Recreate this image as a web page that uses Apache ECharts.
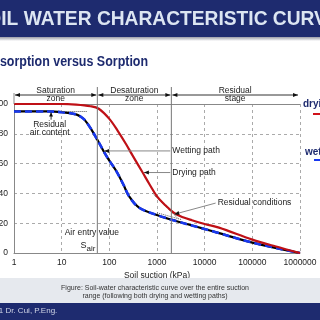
<!DOCTYPE html>
<html>
<head>
<meta charset="utf-8">
<title>Soil water characteristic curve</title>
<script src="https://cdn.jsdelivr.net/npm/echarts@6/dist/echarts.min.js"></script>
<style>
  html, body { margin: 0; padding: 0; background: #fff; }
  #main { width: 320px; height: 320px; }
</style>
</head>
<body>
<div id="main"></div>
<script>
// ---- data ----
var xTicks = [1, 10, 100, 1000, 10000, 100000, 1000000];
var yTicks = [0, 20, 40, 60, 80, 100];

// drying path (desorption), suction kPa -> water content %
var dryingSuction = [1, 10, 20, 40, 60, 100, 150, 225, 300, 500, 700, 1000, 1500, 2250, 3500, 5400, 10000, 20000, 100000, 300000, 1000000];
var dryingWater   = [100, 100, 99.6, 98.5, 96.8, 90, 82, 73, 66, 54, 46, 38, 32, 27, 24, 22, 19.5, 17, 9, 4.5, 0];

// wetting path (sorption)
var wettingSuction = [1, 5, 10, 20, 25, 30, 40, 56, 80, 100, 140, 200, 260, 420, 1100, 2500, 9000, 17000, 100000, 1000000];
var wettingWater   = [95, 95, 94.5, 93, 91.5, 89.5, 84, 76, 67, 62, 55, 45.5, 38, 30.5, 25, 21.5, 16.5, 14, 7, 0];

var airEntry = 56;          // kPa
var residualStart = 2000;   // kPa
var zoneBounds = [1, airEntry, residualStart, 1000000];
var zoneNames = [['Saturation', 'zone'], ['Desaturation', 'zone'], ['Residual', 'stage']];

var FONT = '"Liberation Sans", Arial, sans-serif';
var NAVY = '#1e2b6f';

function pairs(xs, ys) {
    return xs.map(function (x, i) { return [x, ys[i]]; });
}

var chart = echarts.init(document.getElementById('main'));

var option = {
    animation: false,
    textStyle: { fontFamily: FONT },
    grid: { left: 14, right: 20, top: 104, bottom: 67, containLabel: false, outerBoundsMode: 'none' },
    xAxis: {
        type: 'log',
        logBase: 10,
        min: xTicks[0],
        max: xTicks[xTicks.length - 1],
        splitNumber: 6,
        name: 'Soil suction (kPa)',
        nameLocation: 'middle',
        nameGap: 18,
        nameTextStyle: { fontSize: 8.5, color: '#222', fontFamily: FONT },
        axisLine: { lineStyle: { color: '#888' } },
        axisTick: { show: false },
        axisLabel: {
            fontSize: 8.5, color: '#222', margin: 5, fontFamily: FONT,
            formatter: function (v) {
                var t = xTicks.filter(function (k) { return Math.abs(k - v) / k < 1e-6; });
                return t.length ? String(t[0]) : '';
            }
        },
        splitLine: { show: true, lineStyle: { color: '#aaa', type: [3, 3] } }
    },
    yAxis: {
        type: 'value',
        min: yTicks[0],
        max: yTicks[yTicks.length - 1],
        interval: 20,
        axisLine: { show: true, lineStyle: { color: '#888' } },
        axisTick: { show: false },
        axisLabel: { fontSize: 8.5, color: '#222', margin: 6, fontFamily: FONT },
        splitLine: { lineStyle: { color: '#aaa', type: [3, 3] } }
    },
    series: [
        {
            name: 'drying',
            type: 'line',
            data: pairs(dryingSuction, dryingWater),
            showSymbol: false,
            smooth: 0.35,
            z: 5,
            lineStyle: { color: '#bf1016', width: 2.2 },
            markLine: {
                silent: true,
                symbol: 'none',
                label: { show: false },
                data: [
                    [{ coord: [1, 100], lineStyle: { color: '#888', type: 'solid', width: 1 } },
                     { coord: [1000000, 100] }],
                    [{ coord: [10, 95], lineStyle: { color: '#555', type: 'dotted', width: 1 } },
                     { coord: [35, 95] }],
                    [{ coord: [800, 40], lineStyle: { color: '#555', type: 'dotted', width: 1 } },
                     { coord: [2800, 23] }],
                    [{ coord: [1000, 27], lineStyle: { color: '#555', type: 'dotted', width: 1 } },
                     { coord: [3200, 22.5] }]
                ]
            }
        },
        {
            name: 'wetting-under',
            type: 'line',
            data: pairs(wettingSuction, wettingWater),
            showSymbol: false,
            smooth: 0.35,
            z: 3,
            lineStyle: { color: '#000', width: 2.2 }
        },
        {
            name: 'wetting',
            type: 'line',
            data: pairs(wettingSuction, wettingWater),
            showSymbol: false,
            smooth: 0.35,
            z: 4,
            lineStyle: { color: '#1838f0', width: 2.6, type: [7, 4] }
        }
    ]
};
chart.setOption(option);

// ---- annotations placed through the chart's own scales ----
function px(p) { return chart.convertToPixel({ seriesIndex: 0 }, p); }

function head(tip, from, len, hw) {
    var dx = tip[0] - from[0], dy = tip[1] - from[1];
    var d = Math.sqrt(dx * dx + dy * dy) || 1;
    var ux = dx / d, uy = dy / d;
    var bx = tip[0] - ux * len, by = tip[1] - uy * len;
    return {
        type: 'polygon',
        shape: { points: [[tip[0], tip[1]], [bx - uy * hw, by + ux * hw], [bx + uy * hw, by - ux * hw]] },
        style: { fill: '#111' },
        z: 20
    };
}
function seg(a, b, color, w) {
    return { type: 'line', shape: { x1: a[0], y1: a[1], x2: b[0], y2: b[1] },
             style: { stroke: color || '#777', lineWidth: w || 1 }, z: 15 };
}
function txt(x, y, s, opt) {
    opt = opt || {};
    return {
        type: 'text', x: x, y: y, z: 30,
        scaleX: opt.scaleX || 1, originX: 0,
        style: {
            text: s, fill: opt.color || '#222',
            font: (opt.bold ? 'bold ' : '') + (opt.size || 8.5) + 'px ' + FONT,
            align: opt.align || 'left', verticalAlign: 'middle'
        }
    };
}

var g = [];

// slide decorations
g.push({ type: 'rect', shape: { x: 0, y: 0, width: 320, height: 37 }, style: { fill: NAVY }, z: 1 });
g.push({ type: 'rect', shape: { x: 0, y: 37, width: 320, height: 4 },
         style: { fill: new echarts.graphic.LinearGradient(0, 0, 0, 1, [
             { offset: 0, color: '#9a9ca8' }, { offset: 1, color: '#ffffff' }]) }, z: 1 });
g.push(txt(-26.5, 19, 'SOIL WATER CHARACTERISTIC CURVE', { size: 20, bold: true, color: '#dce5f2', scaleX: 0.96 }));
g.push(txt(-16, 62, 'Desorption versus Sorption', { size: 14, bold: true, color: NAVY, scaleX: 0.89 }));
g.push({ type: 'rect', shape: { x: 0, y: 278, width: 320, height: 25 }, style: { fill: '#e6e9ee' }, z: 1 });
g.push(txt(155, 288, 'Figure: Soil-water characteristic curve over the entire suction', { size: 7, align: 'center', color: '#333' }));
g.push(txt(155, 296, 'range (following both drying and wetting paths)', { size: 7, align: 'center', color: '#333' }));
g.push({ type: 'rect', shape: { x: 0, y: 303, width: 320, height: 17 }, style: { fill: NAVY }, z: 1 });
g.push(txt(-14, 311, '2011 Dr. Cui, P.Eng.', { size: 8, color: '#d0d5e6' }));

// legend on the right
g.push(txt(303, 104, 'drying', { size: 10, bold: true, color: NAVY }));
g.push(seg([313, 114], [320, 114], '#d0121a', 2));
g.push(txt(305, 152, 'wetting', { size: 10, bold: true, color: NAVY }));
g.push(seg([314, 160], [320, 160], '#1838f0', 2));

// zone boundaries and header arrows
var topY = px([1, 100])[1];
var botY = px([1, 0])[1];
g.push(seg([px([1, 0])[0], topY], [px([1, 0])[0], topY - 11], '#888'));
[airEntry, residualStart].forEach(function (b) {
    var x = px([b, 0])[0];
    g.push(seg([x, botY], [x, topY - 17], '#777'));
});
var hy = topY - 9;
for (var i = 0; i < zoneNames.length; i++) {
    var x0 = px([zoneBounds[i], 100])[0] + 1;
    var x1 = px([zoneBounds[i + 1], 100])[0] - (i === zoneNames.length - 1 ? 2 : 1);
    g.push(seg([x0, hy], [x1, hy], '#333'));
    g.push(head([x0, hy], [x1, hy], 5, 2));
    g.push(head([x1, hy], [x0, hy], 5, 2));
    var cx = (x0 + x1) / 2;
    g.push(txt(cx, hy - 4, zoneNames[i][0], { align: 'center' }));
    g.push(txt(cx, hy + 4, zoneNames[i][1], { align: 'center' }));
}

// leader annotations
var leaders = [
    { tip: [78, 68.5], from: [1900, 68.5], text: 'Wetting path' },
    { tip: [530, 54], from: [1900, 54], text: 'Drying path' },
    { tip: [2300, 26], from: [17000, 33.5], text: 'Residual conditions' }
];
leaders.forEach(function (l) {
    var a = px(l.tip), b = px(l.from);
    g.push(seg(a, b, '#888'));
    g.push(head(a, b, 5, 2));
    g.push(txt(b[0] + 2, b[1], l.text));
});

// residual air content
var ra = px([5.6, 86]);
g.push(txt(ra[0], ra[1], 'Residual', { align: 'center' }));
g.push(txt(ra[0], ra[1] + 8, 'air content', { align: 'center' }));
var raTip = px([6, 94.3]), raFrom = px([6, 89.5]);
g.push(seg(raTip, raFrom, '#333'));
g.push(head(raTip, raFrom, 4, 2));

// air entry value
var ae = px([43, 13.4]);
g.push(txt(ae[0], ae[1], 'Air entry value', { align: 'center' }));
var ax = px([airEntry, 0])[0] - 2;
g.push({
    type: 'text', x: ax, y: botY - 7, z: 30,
    style: {
        text: '{s|S}{sub|air}', align: 'right', verticalAlign: 'middle',
        rich: {
            s: { font: '9px ' + FONT, fill: '#222' },
            sub: { font: '8px ' + FONT, fill: '#222', padding: [6, 0, 0, 0] }
        }
    }
});

chart.setOption({ graphic: g });
</script>
</body>
</html>
